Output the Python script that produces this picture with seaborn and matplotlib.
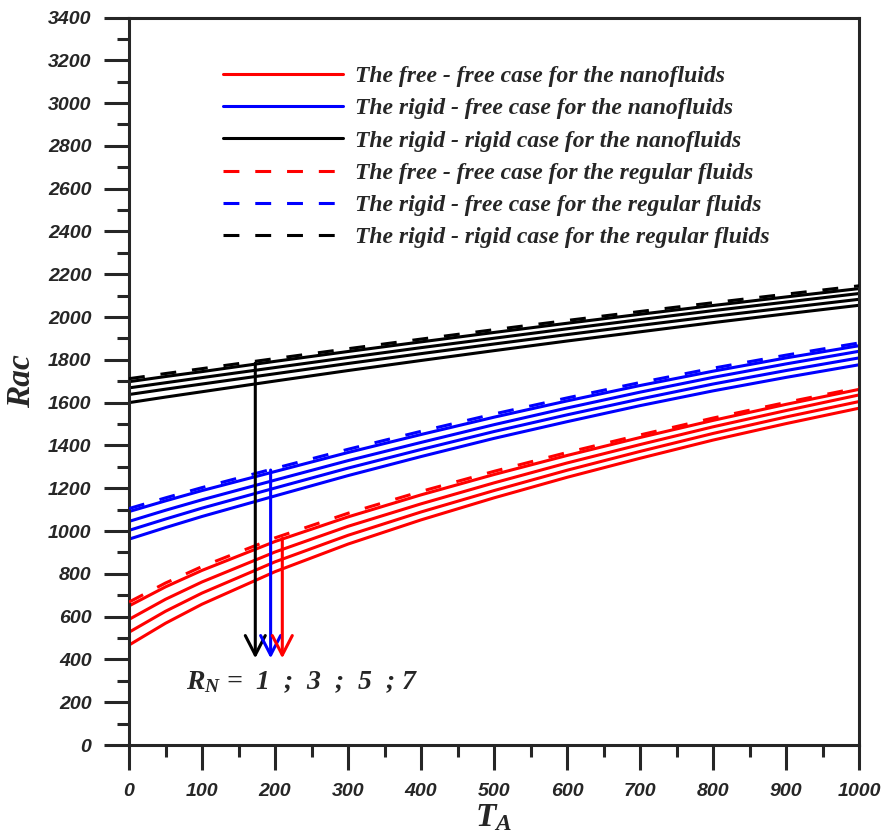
import numpy as np
import pandas as pd
import matplotlib
matplotlib.use('Agg')
import matplotlib.pyplot as plt
import seaborn as sns
from matplotlib.lines import Line2D
from matplotlib.ticker import MultipleLocator
from matplotlib.font_manager import FontProperties

# Taylor number values where the curves were read
ta = [0, 50, 100, 200, 300, 400, 500, 600, 700, 800, 900, 1000]

# free - free case (red)
ff_regular = [668, 757, 834, 968, 1083, 1185, 1279, 1367, 1449, 1528, 1601, 1670]
ff_rn1 = [650, 739, 816, 951, 1066, 1169, 1264, 1353, 1437, 1517, 1592, 1662]
ff_rn3 = [587, 681, 762, 902, 1022, 1127, 1225, 1318, 1404, 1487, 1563, 1636]
ff_rn5 = [527, 625, 710, 856, 980, 1089, 1189, 1284, 1372, 1456, 1533, 1605]
ff_rn7 = [467, 569, 658, 810, 939, 1052, 1155, 1251, 1340, 1425, 1502, 1574]

# rigid - free case (blue)
rf_regular = [1105, 1155, 1203, 1293, 1382, 1466, 1547, 1622, 1694, 1761, 1822, 1879]
rf_rn1 = [1091, 1141, 1189, 1278, 1367, 1451, 1532, 1608, 1680, 1747, 1809, 1866]
rf_rn3 = [1045, 1097, 1146, 1238, 1329, 1414, 1497, 1575, 1649, 1718, 1781, 1840]
rf_rn5 = [1003, 1056, 1107, 1201, 1294, 1381, 1465, 1543, 1617, 1687, 1750, 1809]
rf_rn7 = [962, 1016, 1068, 1164, 1259, 1348, 1433, 1511, 1586, 1655, 1718, 1777]

# rigid - rigid case (black)
rr_regular = [1712, 1736, 1759, 1806, 1852, 1897, 1941, 1984, 2026, 2067, 2107, 2146]
rr_rn1 = [1698, 1722, 1745, 1793, 1839, 1884, 1928, 1971, 2013, 2054, 2094, 2133]
rr_rn3 = [1669, 1693, 1717, 1764, 1811, 1857, 1901, 1945, 1988, 2030, 2070, 2110]
rr_rn5 = [1638, 1663, 1687, 1735, 1783, 1829, 1874, 1918, 1961, 2003, 2043, 2083]
rr_rn7 = [1600, 1626, 1651, 1701, 1750, 1797, 1843, 1888, 1931, 1974, 2015, 2055]

# arrows pointing at the R_N label
arrow_ta = [173, 194, 210]
arrow_top = [1785, 1285, 965]
arrow_tip = 405

legend_labels = ['The free - free case for the nanofluids',
                 'The rigid - free case for the nanofluids',
                 'The rigid - rigid case for the nanofluids',
                 'The free - free case for the regular fluids',
                 'The rigid - free case for the regular fluids',
                 'The rigid - rigid case for the regular fluids']

rows = []
cases = {'free-free': (ff_regular, [ff_rn1, ff_rn3, ff_rn5, ff_rn7]),
         'rigid-free': (rf_regular, [rf_rn1, rf_rn3, rf_rn5, rf_rn7]),
         'rigid-rigid': (rr_regular, [rr_rn1, rr_rn3, rr_rn5, rr_rn7])}
for case, (reg, nanos) in cases.items():
    for t, r in zip(ta, reg):
        rows.append((case, 'regular', 0, t, r))
    for rn, curve in zip([1, 3, 5, 7], nanos):
        for t, r in zip(ta, curve):
            rows.append((case, 'nano', rn, t, r))
df = pd.DataFrame(rows, columns=['case', 'fluid', 'RN', 'TA', 'Rac'])

sns.set_style('ticks')
plt.rcParams['font.family'] = ['Liberation Serif', 'DejaVu Serif']
plt.rcParams['mathtext.fontset'] = 'custom'
plt.rcParams['mathtext.it'] = 'Liberation Serif:italic:bold'
plt.rcParams['mathtext.rm'] = 'Liberation Serif:italic:bold'
plt.rcParams['mathtext.bf'] = 'Liberation Serif:italic:bold'

colors = {'free-free': 'red', 'rigid-free': 'blue', 'rigid-rigid': 'black'}
dash = (0, (5.2, 5.2))
lw = 2.2

fig = plt.figure(figsize=(8.85, 8.34), dpi=100)
ax = fig.add_axes([129 / 885, 1 - 745 / 834, 730 / 885, 727.5 / 834])

# nanofluid curves first, regular fluid (dashed) on top
for (case, fluid, rn), sub in df.groupby(['case', 'fluid', 'RN']):
    if fluid == 'nano':
        sns.lineplot(data=sub, x='TA', y='Rac', color=colors[case], lw=lw,
                     estimator=None, legend=False, ax=ax, zorder=2)
for (case, fluid, rn), sub in df.groupby(['case', 'fluid', 'RN']):
    if fluid == 'regular':
        sns.lineplot(data=sub, x='TA', y='Rac', color=colors[case], lw=lw,
                     ls=dash, estimator=None, legend=False, ax=ax, zorder=3)

for x, top, c in zip(arrow_ta, arrow_top, ['black', 'blue', 'red']):
    ax.annotate('', xy=(x, arrow_tip), xytext=(x, top),
                arrowprops=dict(arrowstyle='->,head_length=0.7,head_width=0.36',
                                color=c, lw=lw, shrinkA=0, shrinkB=0,
                                mutation_scale=20))

ax.text(78, 262, r'$R_N$' + ' =  1  ;  3  ;  5  ; 7', fontsize=20,
        fontweight='bold', fontstyle='italic', ha='left', va='baseline')

ax.set_xlim(0, 1000)
ax.set_ylim(0, 3400)
ax.xaxis.set_major_locator(MultipleLocator(100))
ax.xaxis.set_minor_locator(MultipleLocator(50))
ax.yaxis.set_major_locator(MultipleLocator(200))
ax.yaxis.set_minor_locator(MultipleLocator(100))
ax.tick_params(which='major', direction='out', length=18, width=2.2, pad=9)
ax.tick_params(which='minor', direction='out', length=8.6, width=2.2)
for s in ax.spines.values():
    s.set_linewidth(2.2)
    s.set_visible(True)

tick_font = FontProperties(family='Liberation Sans', weight='bold', style='italic', size=14)
for lab in ax.get_xticklabels() + ax.get_yticklabels():
    lab.set_fontproperties(tick_font)

ax.set_xlabel(r'$T_A$', fontsize=24, labelpad=2)
ax.set_ylabel('Rac', fontsize=24, fontweight='bold', fontstyle='italic', labelpad=8)

handles = [Line2D([], [], color='red', lw=lw),
           Line2D([], [], color='blue', lw=lw),
           Line2D([], [], color='black', lw=lw),
           Line2D([], [], color='red', lw=lw, ls=dash),
           Line2D([], [], color='blue', lw=lw, ls=dash),
           Line2D([], [], color='black', lw=lw, ls=dash)]
leg_font = FontProperties(family='Liberation Serif', weight='bold', style='italic', size=17)
ax.legend(handles, legend_labels, loc='upper left', bbox_to_anchor=(0.1288, 0.934),
          frameon=False, handlelength=5.1, handletextpad=0.5, labelspacing=0.455,
          borderpad=0, borderaxespad=0, prop=leg_font)

fig.savefig('out.png', dpi=100)
